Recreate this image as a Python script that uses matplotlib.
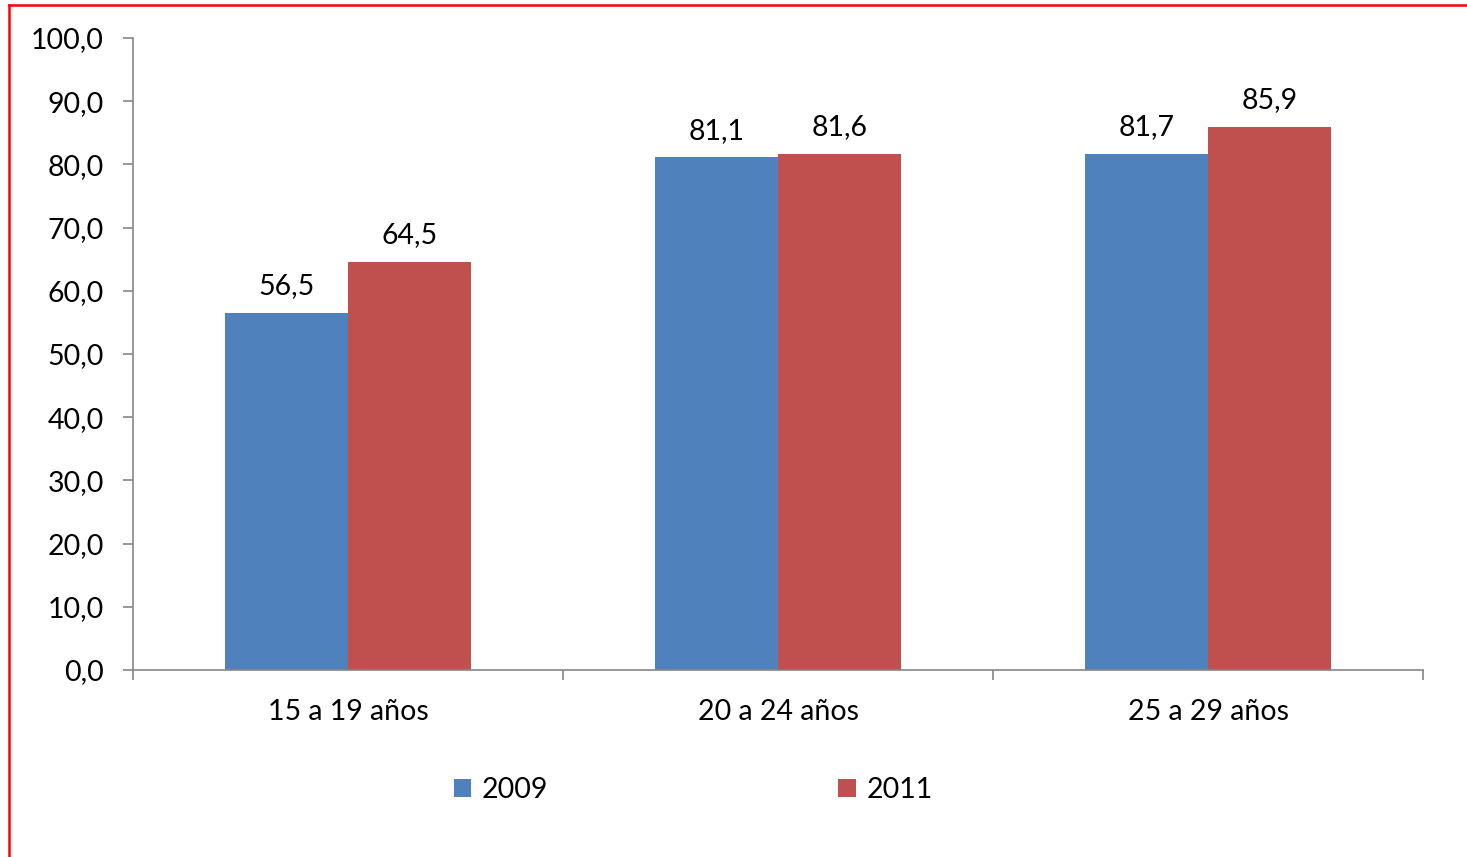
import numpy as np
import matplotlib.pyplot as plt
from matplotlib.lines import Line2D

categories = ['15 a 19 años', '20 a 24 años', '25 a 29 años']
years = ['2009', '2011']
values_2009 = [56.5, 81.1, 81.7]
values_2011 = [64.5, 81.6, 85.9]
colors = ['#4F81BD', '#C0504D']

plt.rcParams['font.family'] = ['Lato', 'DejaVu Sans']
FS = 20.5


def fmt(v):
    return '{:.1f}'.format(v).replace('.', ',')


fig = plt.figure(figsize=(14.67, 8.57), dpi=100)
ax = fig.add_axes([133 / 1467, 1 - 670 / 857, 1290 / 1467, 632 / 857])

x = np.arange(len(categories))
w = 0.286
series = [values_2009, values_2011]
bars = []
for i, vals in enumerate(series):
    b = ax.bar(x + (i - 0.5) * w, vals, w, color=colors[i], label=years[i])
    ax.bar_label(b, labels=[fmt(v) for v in vals], padding=10, fontsize=FS)
    bars.append(b)

ax.set_xlim(-0.5, 2.5)
ax.set_ylim(0, 100)
ax.set_yticks(np.arange(0, 101, 10))
ax.set_yticklabels([fmt(v) for v in np.arange(0, 101, 10)])
ax.set_xticks(x)
ax.set_xticklabels(categories)
ax.set_xticks([-0.5, 0.5, 1.5, 2.5], minor=True)
ax.tick_params(axis='x', which='major', length=0, pad=21, labelsize=FS)
ax.tick_params(axis='x', which='minor', length=7, color='#868686', width=1.2)
ax.tick_params(axis='y', length=7, color='#868686', width=1.2, labelsize=FS, pad=14)

for s in ['top', 'right']:
    ax.spines[s].set_visible(False)
for s in ['left', 'bottom']:
    ax.spines[s].set_color('#868686')
    ax.spines[s].set_linewidth(1.2)

fig.legend(handles=bars, labels=years, loc='center', bbox_to_anchor=(693 / 1467, 1 - 790 / 857),
           ncol=2, frameon=False, fontsize=FS, handlelength=0.62, handleheight=0.62,
           handletextpad=0.36, columnspacing=10.2)

# red frame around the chart
fig.add_artist(Line2D([9 / 1467, 9 / 1467], [0, 1 - 5 / 857], color='#FF0000', lw=1.8,
                      transform=fig.transFigure))
fig.add_artist(Line2D([9 / 1467, 1], [1 - 5 / 857, 1 - 5 / 857], color='#FF0000', lw=1.8,
                      transform=fig.transFigure))

fig.savefig('out.png', dpi=100)
